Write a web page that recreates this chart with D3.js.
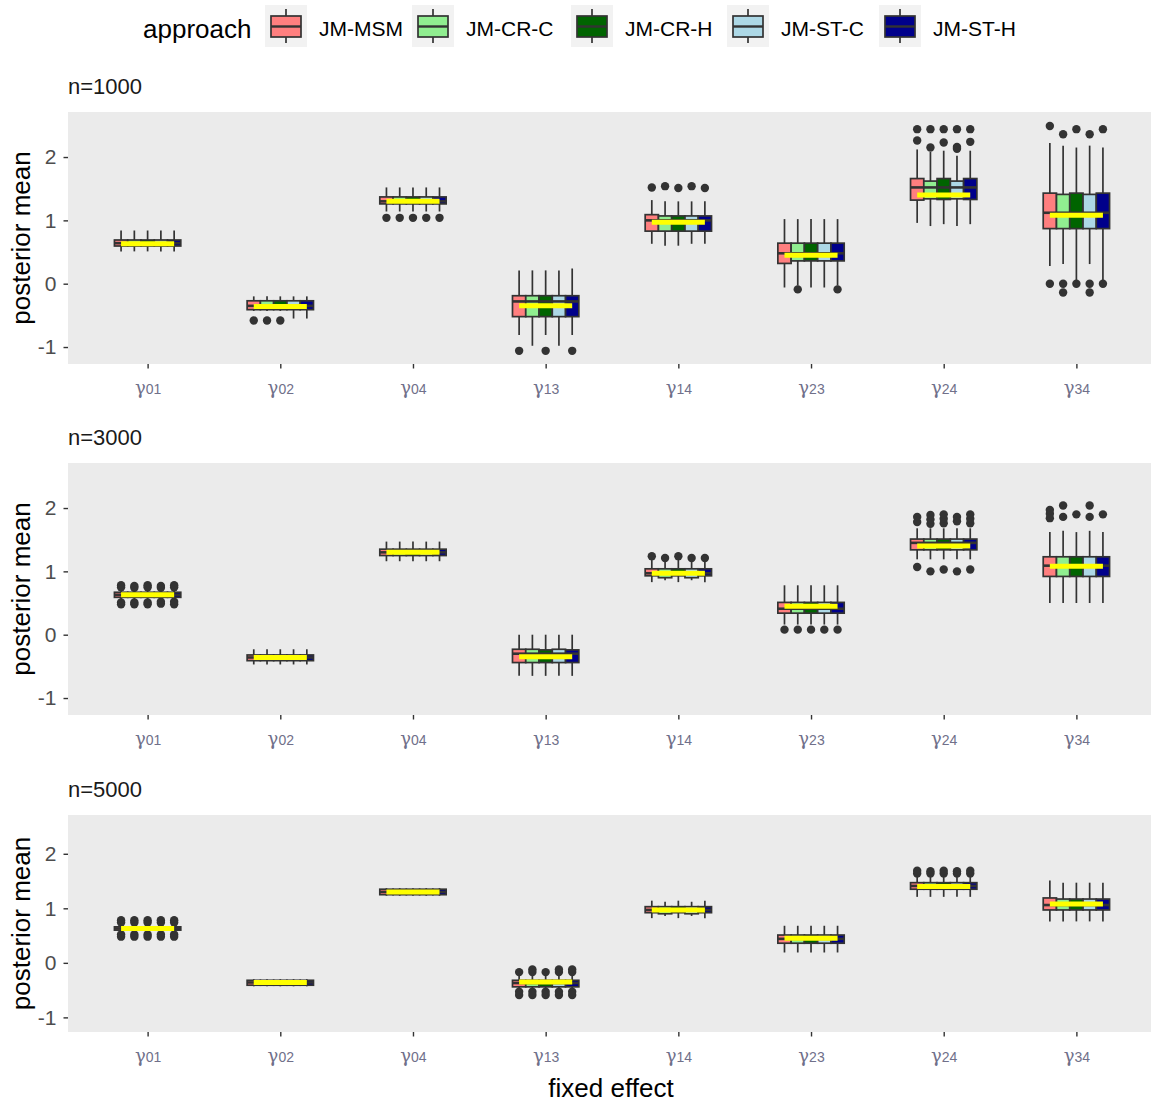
<!DOCTYPE html>
<html>
<head>
<meta charset="utf-8">
<script src="https://cdn.jsdelivr.net/npm/d3@7"></script>
<style>
  body { margin: 0; background: #ffffff; }
  svg { display: block; }
</style>
</head>
<body>
<svg id="chart" width="1151" height="1104"></svg>
<script>
// Estimation approaches compared in the simulation study
const approaches = ["JM-MSM", "JM-CR-C", "JM-CR-H", "JM-ST-C", "JM-ST-H"];
const approachColors = ["#FF7F7F", "#90EE90", "#006400", "#ADD8E6", "#00008B"];

// Fixed effects (subscripts of gamma) and their true values
const effects = ["01", "02", "04", "13", "14", "23", "24", "34"];
const trueValues = [0.63, -0.36, 1.30, -0.35, 0.97, 0.45, 1.40, 1.08];

const sampleSizes = ["n=1000", "n=3000", "n=5000"];
const yTicks = [-1, 0, 1, 2];

// Box summaries: effect, approach, lower whisker, Q1, median, Q3, upper whisker
const box1000 = [
  ["01", "JM-MSM", 0.51, 0.595, 0.64, 0.69, 0.84],
  ["01", "JM-CR-C", 0.51, 0.595, 0.64, 0.69, 0.84],
  ["01", "JM-CR-H", 0.51, 0.595, 0.64, 0.69, 0.84],
  ["01", "JM-ST-C", 0.51, 0.595, 0.64, 0.69, 0.84],
  ["01", "JM-ST-H", 0.51, 0.595, 0.64, 0.69, 0.84],
  ["02", "JM-MSM", -0.43, -0.41, -0.35, -0.27, -0.20],
  ["02", "JM-CR-C", -0.43, -0.41, -0.35, -0.27, -0.20],
  ["02", "JM-CR-H", -0.43, -0.41, -0.35, -0.27, -0.20],
  ["02", "JM-ST-C", -0.55, -0.41, -0.35, -0.27, -0.20],
  ["02", "JM-ST-H", -0.55, -0.41, -0.35, -0.27, -0.20],
  ["04", "JM-MSM", 1.14, 1.26, 1.30, 1.37, 1.52],
  ["04", "JM-CR-C", 1.14, 1.26, 1.30, 1.37, 1.52],
  ["04", "JM-CR-H", 1.14, 1.26, 1.30, 1.37, 1.52],
  ["04", "JM-ST-C", 1.14, 1.26, 1.30, 1.37, 1.52],
  ["04", "JM-ST-H", 1.14, 1.26, 1.30, 1.37, 1.52],
  ["13", "JM-MSM", -0.81, -0.52, -0.28, -0.19, 0.21],
  ["13", "JM-CR-C", -0.98, -0.52, -0.28, -0.19, 0.21],
  ["13", "JM-CR-H", -0.81, -0.52, -0.28, -0.19, 0.21],
  ["13", "JM-ST-C", -0.98, -0.52, -0.28, -0.19, 0.21],
  ["13", "JM-ST-H", -0.81, -0.52, -0.28, -0.19, 0.24],
  ["14", "JM-MSM", 0.63, 0.83, 1.00, 1.09, 1.32],
  ["14", "JM-CR-C", 0.60, 0.83, 1.00, 1.07, 1.30],
  ["14", "JM-CR-H", 0.60, 0.83, 1.00, 1.07, 1.30],
  ["14", "JM-ST-C", 0.63, 0.83, 1.00, 1.07, 1.30],
  ["14", "JM-ST-H", 0.63, 0.83, 1.00, 1.07, 1.30],
  ["23", "JM-MSM", -0.06, 0.32, 0.48, 0.64, 1.02],
  ["23", "JM-CR-C", -0.03, 0.36, 0.48, 0.64, 1.02],
  ["23", "JM-CR-H", -0.06, 0.36, 0.48, 0.64, 1.02],
  ["23", "JM-ST-C", -0.06, 0.36, 0.48, 0.64, 1.02],
  ["23", "JM-ST-H", -0.03, 0.36, 0.48, 0.64, 1.02],
  ["24", "JM-MSM", 0.96, 1.32, 1.52, 1.66, 2.12],
  ["24", "JM-CR-C", 0.91, 1.34, 1.52, 1.62, 2.08],
  ["24", "JM-CR-H", 0.94, 1.33, 1.52, 1.66, 2.10],
  ["24", "JM-ST-C", 0.91, 1.34, 1.52, 1.62, 2.02],
  ["24", "JM-ST-H", 0.94, 1.33, 1.52, 1.66, 2.10],
  ["34", "JM-MSM", 0.28, 0.87, 1.12, 1.43, 2.22],
  ["34", "JM-CR-C", 0.31, 0.87, 1.12, 1.41, 2.18],
  ["34", "JM-CR-H", 0.03, 0.87, 1.12, 1.43, 2.15],
  ["34", "JM-ST-C", 0.31, 0.87, 1.12, 1.41, 2.18],
  ["34", "JM-ST-H", 0.03, 0.87, 1.12, 1.43, 2.15]
];

const box3000 = [
  ["01", "JM-MSM", 0.56, 0.59, 0.63, 0.67, 0.70],
  ["01", "JM-CR-C", 0.56, 0.59, 0.63, 0.67, 0.70],
  ["01", "JM-CR-H", 0.56, 0.59, 0.63, 0.67, 0.70],
  ["01", "JM-ST-C", 0.56, 0.59, 0.63, 0.67, 0.70],
  ["01", "JM-ST-H", 0.56, 0.59, 0.63, 0.67, 0.70],
  ["02", "JM-MSM", -0.47, -0.41, -0.36, -0.32, -0.23],
  ["02", "JM-CR-C", -0.47, -0.41, -0.36, -0.32, -0.23],
  ["02", "JM-CR-H", -0.47, -0.41, -0.36, -0.32, -0.23],
  ["02", "JM-ST-C", -0.47, -0.41, -0.36, -0.32, -0.23],
  ["02", "JM-ST-H", -0.47, -0.41, -0.36, -0.32, -0.23],
  ["04", "JM-MSM", 1.16, 1.25, 1.30, 1.35, 1.47],
  ["04", "JM-CR-C", 1.16, 1.25, 1.30, 1.35, 1.47],
  ["04", "JM-CR-H", 1.16, 1.25, 1.30, 1.35, 1.47],
  ["04", "JM-ST-C", 1.16, 1.25, 1.30, 1.35, 1.47],
  ["04", "JM-ST-H", 1.16, 1.25, 1.30, 1.35, 1.47],
  ["13", "JM-MSM", -0.65, -0.44, -0.30, -0.23, 0.00],
  ["13", "JM-CR-C", -0.65, -0.44, -0.30, -0.23, 0.00],
  ["13", "JM-CR-H", -0.65, -0.44, -0.30, -0.24, 0.00],
  ["13", "JM-ST-C", -0.65, -0.44, -0.30, -0.23, 0.00],
  ["13", "JM-ST-H", -0.65, -0.44, -0.30, -0.24, 0.00],
  ["14", "JM-MSM", 0.83, 0.93, 0.97, 1.04, 1.18],
  ["14", "JM-CR-C", 0.86, 0.90, 0.97, 1.04, 1.15],
  ["14", "JM-CR-H", 0.83, 0.93, 0.97, 1.04, 1.18],
  ["14", "JM-ST-C", 0.86, 0.90, 0.97, 1.04, 1.15],
  ["14", "JM-ST-H", 0.83, 0.93, 0.97, 1.04, 1.15],
  ["23", "JM-MSM", 0.16, 0.34, 0.41, 0.51, 0.78],
  ["23", "JM-CR-C", 0.16, 0.34, 0.41, 0.51, 0.78],
  ["23", "JM-CR-H", 0.16, 0.34, 0.41, 0.51, 0.78],
  ["23", "JM-ST-C", 0.16, 0.34, 0.41, 0.51, 0.78],
  ["23", "JM-ST-H", 0.16, 0.34, 0.41, 0.51, 0.78],
  ["24", "JM-MSM", 1.19, 1.34, 1.45, 1.51, 1.68],
  ["24", "JM-CR-C", 1.19, 1.34, 1.45, 1.51, 1.68],
  ["24", "JM-CR-H", 1.19, 1.34, 1.45, 1.51, 1.68],
  ["24", "JM-ST-C", 1.19, 1.34, 1.45, 1.51, 1.68],
  ["24", "JM-ST-H", 1.19, 1.34, 1.45, 1.51, 1.68],
  ["34", "JM-MSM", 0.50, 0.92, 1.09, 1.23, 1.62],
  ["34", "JM-CR-C", 0.50, 0.92, 1.09, 1.23, 1.64],
  ["34", "JM-CR-H", 0.50, 0.92, 1.09, 1.23, 1.62],
  ["34", "JM-ST-C", 0.50, 0.92, 1.09, 1.23, 1.64],
  ["34", "JM-ST-H", 0.50, 0.92, 1.09, 1.23, 1.62]
];

const box5000 = [
  ["01", "JM-MSM", 0.57, 0.60, 0.63, 0.66, 0.69],
  ["01", "JM-CR-C", 0.57, 0.60, 0.63, 0.66, 0.69],
  ["01", "JM-CR-H", 0.57, 0.60, 0.63, 0.66, 0.69],
  ["01", "JM-ST-C", 0.57, 0.60, 0.63, 0.66, 0.69],
  ["01", "JM-ST-H", 0.57, 0.60, 0.63, 0.66, 0.69],
  ["02", "JM-MSM", -0.43, -0.41, -0.36, -0.32, -0.30],
  ["02", "JM-CR-C", -0.43, -0.41, -0.36, -0.32, -0.30],
  ["02", "JM-CR-H", -0.43, -0.41, -0.36, -0.32, -0.30],
  ["02", "JM-ST-C", -0.43, -0.41, -0.36, -0.32, -0.30],
  ["02", "JM-ST-H", -0.43, -0.41, -0.36, -0.32, -0.30],
  ["04", "JM-MSM", 1.23, 1.25, 1.30, 1.35, 1.37],
  ["04", "JM-CR-C", 1.23, 1.25, 1.30, 1.35, 1.37],
  ["04", "JM-CR-H", 1.23, 1.25, 1.30, 1.35, 1.37],
  ["04", "JM-ST-C", 1.23, 1.25, 1.30, 1.35, 1.37],
  ["04", "JM-ST-H", 1.23, 1.25, 1.30, 1.35, 1.37],
  ["13", "JM-MSM", -0.47, -0.44, -0.37, -0.32, -0.24],
  ["13", "JM-CR-C", -0.47, -0.44, -0.37, -0.32, -0.24],
  ["13", "JM-CR-H", -0.47, -0.44, -0.37, -0.32, -0.24],
  ["13", "JM-ST-C", -0.47, -0.44, -0.37, -0.32, -0.24],
  ["13", "JM-ST-H", -0.47, -0.44, -0.37, -0.32, -0.24],
  ["14", "JM-MSM", 0.82, 0.92, 0.97, 1.03, 1.14],
  ["14", "JM-CR-C", 0.86, 0.90, 0.97, 1.03, 1.12],
  ["14", "JM-CR-H", 0.82, 0.92, 0.97, 1.03, 1.14],
  ["14", "JM-ST-C", 0.86, 0.90, 0.97, 1.03, 1.12],
  ["14", "JM-ST-H", 0.82, 0.92, 0.97, 1.03, 1.14],
  ["23", "JM-MSM", 0.19, 0.36, 0.44, 0.51, 0.68],
  ["23", "JM-CR-C", 0.19, 0.36, 0.44, 0.51, 0.68],
  ["23", "JM-CR-H", 0.19, 0.36, 0.44, 0.51, 0.68],
  ["23", "JM-ST-C", 0.19, 0.36, 0.44, 0.51, 0.68],
  ["23", "JM-ST-H", 0.19, 0.36, 0.44, 0.51, 0.68],
  ["24", "JM-MSM", 1.21, 1.35, 1.41, 1.47, 1.60],
  ["24", "JM-CR-C", 1.21, 1.35, 1.41, 1.47, 1.60],
  ["24", "JM-CR-H", 1.21, 1.35, 1.41, 1.47, 1.60],
  ["24", "JM-ST-C", 1.21, 1.35, 1.41, 1.47, 1.60],
  ["24", "JM-ST-H", 1.21, 1.35, 1.41, 1.47, 1.60],
  ["34", "JM-MSM", 0.76, 0.97, 1.06, 1.19, 1.51],
  ["34", "JM-CR-C", 0.76, 0.97, 1.06, 1.17, 1.47],
  ["34", "JM-CR-H", 0.76, 0.97, 1.06, 1.17, 1.47],
  ["34", "JM-ST-C", 0.76, 0.97, 1.06, 1.17, 1.47],
  ["34", "JM-ST-H", 0.76, 0.97, 1.06, 1.17, 1.47]
];

// Outlying posterior means: effect, approach, value
const out1000 = [
  ["02", "JM-MSM", -0.58], ["02", "JM-CR-C", -0.58], ["02", "JM-CR-H", -0.58],
  ["04", "JM-MSM", 1.04], ["04", "JM-CR-C", 1.04], ["04", "JM-CR-H", 1.04], ["04", "JM-ST-C", 1.04], ["04", "JM-ST-H", 1.04],
  ["13", "JM-MSM", -1.06], ["13", "JM-CR-H", -1.06], ["13", "JM-ST-H", -1.06],
  ["14", "JM-MSM", 1.52], ["14", "JM-CR-C", 1.54], ["14", "JM-CR-H", 1.51], ["14", "JM-ST-C", 1.54], ["14", "JM-ST-H", 1.51],
  ["23", "JM-CR-C", -0.09], ["23", "JM-ST-H", -0.09],
  ["24", "JM-MSM", 2.44], ["24", "JM-MSM", 2.26],
  ["24", "JM-CR-C", 2.44], ["24", "JM-CR-C", 2.15],
  ["24", "JM-CR-H", 2.44], ["24", "JM-CR-H", 2.23],
  ["24", "JM-ST-C", 2.44], ["24", "JM-ST-C", 2.16], ["24", "JM-ST-C", 2.13],
  ["24", "JM-ST-H", 2.44], ["24", "JM-ST-H", 2.24],
  ["34", "JM-MSM", 2.49], ["34", "JM-MSM", 0.00],
  ["34", "JM-CR-C", 2.36], ["34", "JM-CR-C", 0.00], ["34", "JM-CR-C", -0.14],
  ["34", "JM-CR-H", 2.44], ["34", "JM-CR-H", 0.00],
  ["34", "JM-ST-C", 2.36], ["34", "JM-ST-C", 0.00], ["34", "JM-ST-C", -0.14],
  ["34", "JM-ST-H", 2.44], ["34", "JM-ST-H", 0.00]
];

const out3000 = [
  ["01", "JM-MSM", 0.78], ["01", "JM-MSM", 0.75], ["01", "JM-MSM", 0.51], ["01", "JM-MSM", 0.48],
  ["01", "JM-CR-C", 0.77], ["01", "JM-CR-C", 0.74], ["01", "JM-CR-C", 0.51], ["01", "JM-CR-C", 0.48],
  ["01", "JM-CR-H", 0.78], ["01", "JM-CR-H", 0.75], ["01", "JM-CR-H", 0.51], ["01", "JM-CR-H", 0.48],
  ["01", "JM-ST-C", 0.77], ["01", "JM-ST-C", 0.74], ["01", "JM-ST-C", 0.52], ["01", "JM-ST-C", 0.49],
  ["01", "JM-ST-H", 0.78], ["01", "JM-ST-H", 0.75], ["01", "JM-ST-H", 0.52], ["01", "JM-ST-H", 0.48],
  ["14", "JM-MSM", 1.24], ["14", "JM-CR-C", 1.21], ["14", "JM-CR-H", 1.24], ["14", "JM-ST-C", 1.21], ["14", "JM-ST-H", 1.21],
  ["23", "JM-MSM", 0.08], ["23", "JM-CR-C", 0.08], ["23", "JM-CR-H", 0.08], ["23", "JM-ST-C", 0.08], ["23", "JM-ST-H", 0.08],
  ["24", "JM-MSM", 1.78], ["24", "JM-MSM", 1.86], ["24", "JM-MSM", 1.07],
  ["24", "JM-CR-C", 1.75], ["24", "JM-CR-C", 1.82], ["24", "JM-CR-C", 1.89], ["24", "JM-CR-C", 1.00],
  ["24", "JM-CR-H", 1.76], ["24", "JM-CR-H", 1.83], ["24", "JM-CR-H", 1.90], ["24", "JM-CR-H", 1.03],
  ["24", "JM-ST-C", 1.79], ["24", "JM-ST-C", 1.86], ["24", "JM-ST-C", 1.00],
  ["24", "JM-ST-H", 1.76], ["24", "JM-ST-H", 1.83], ["24", "JM-ST-H", 1.90], ["24", "JM-ST-H", 1.03],
  ["34", "JM-MSM", 1.84], ["34", "JM-MSM", 1.91], ["34", "JM-MSM", 1.97],
  ["34", "JM-CR-C", 1.86], ["34", "JM-CR-C", 2.04],
  ["34", "JM-CR-H", 1.90],
  ["34", "JM-ST-C", 1.86], ["34", "JM-ST-C", 2.04],
  ["34", "JM-ST-H", 1.90]
];

const out5000 = [
  ["01", "JM-MSM", 0.78], ["01", "JM-MSM", 0.74], ["01", "JM-MSM", 0.52], ["01", "JM-MSM", 0.48],
  ["01", "JM-CR-C", 0.78], ["01", "JM-CR-C", 0.74], ["01", "JM-CR-C", 0.52], ["01", "JM-CR-C", 0.48],
  ["01", "JM-CR-H", 0.78], ["01", "JM-CR-H", 0.74], ["01", "JM-CR-H", 0.52], ["01", "JM-CR-H", 0.48],
  ["01", "JM-ST-C", 0.78], ["01", "JM-ST-C", 0.74], ["01", "JM-ST-C", 0.52], ["01", "JM-ST-C", 0.48],
  ["01", "JM-ST-H", 0.78], ["01", "JM-ST-H", 0.74], ["01", "JM-ST-H", 0.52], ["01", "JM-ST-H", 0.48],
  ["13", "JM-MSM", -0.17], ["13", "JM-MSM", -0.53], ["13", "JM-MSM", -0.59],
  ["13", "JM-CR-C", -0.12], ["13", "JM-CR-C", -0.17], ["13", "JM-CR-C", -0.53], ["13", "JM-CR-C", -0.59],
  ["13", "JM-CR-H", -0.17], ["13", "JM-CR-H", -0.53], ["13", "JM-CR-H", -0.59],
  ["13", "JM-ST-C", -0.12], ["13", "JM-ST-C", -0.17], ["13", "JM-ST-C", -0.53], ["13", "JM-ST-C", -0.59],
  ["13", "JM-ST-H", -0.12], ["13", "JM-ST-H", -0.17], ["13", "JM-ST-H", -0.53], ["13", "JM-ST-H", -0.59],
  ["24", "JM-MSM", 1.64], ["24", "JM-MSM", 1.69],
  ["24", "JM-CR-C", 1.64], ["24", "JM-CR-C", 1.68],
  ["24", "JM-CR-H", 1.64], ["24", "JM-CR-H", 1.69],
  ["24", "JM-ST-C", 1.64], ["24", "JM-ST-C", 1.68],
  ["24", "JM-ST-H", 1.64], ["24", "JM-ST-H", 1.69]
];

// ---- layout ----
const W = 1151;
const plotLeft = 68, plotRight = 1156;   // the panel runs slightly past the right edge
const panelSpecs = [
  { label: sampleSizes[0], boxes: box1000, outliers: out1000, top: 112, bottom: 364 },
  { label: sampleSizes[1], boxes: box3000, outliers: out3000, top: 463, bottom: 715 },
  { label: sampleSizes[2], boxes: box5000, outliers: out5000, top: 815, bottom: 1032 }
];
const yDomain = [-1.268, 2.711];
const lineColor = "#333333";
const sans = "'Liberation Sans', Arial, sans-serif";

const svg = d3.select("#chart");
svg.append("rect").attr("width", W).attr("height", 1104).attr("fill", "#ffffff");

const x = d3.scalePoint().domain(effects).range([plotLeft, plotRight]).padding(0.6);
const step = x.step();
const dodge = d3.scaleBand().domain(approaches).range([-0.25 * step, 0.25 * step]);
const bw = dodge.bandwidth();
const colorOf = d3.scaleOrdinal().domain(approaches).range(approachColors);
const trueOf = new Map(effects.map((e, i) => [e, trueValues[i]]));

panelSpecs.forEach(p => {
  const g = svg.append("g");
  const y = d3.scaleLinear().domain(yDomain).range([p.bottom, p.top]);

  g.append("rect")
    .attr("x", plotLeft).attr("y", p.top)
    .attr("width", plotRight - plotLeft).attr("height", p.bottom - p.top)
    .attr("fill", "#EBEBEB");

  // panel title
  g.append("text")
    .attr("x", plotLeft).attr("y", p.top - 26)
    .attr("dominant-baseline", "central")
    .attr("font-family", sans).attr("font-size", 22).attr("fill", "#1A1A1A")
    .text(p.label);

  // y axis
  const yAxis = g.append("g").attr("transform", `translate(${plotLeft},0)`)
    .call(d3.axisLeft(y).tickValues(yTicks).tickSize(4.5).tickPadding(7).tickFormat(d => String(d)));
  yAxis.select(".domain").remove();
  yAxis.selectAll(".tick line").attr("stroke", lineColor).attr("stroke-width", 1.4);
  yAxis.selectAll(".tick text")
    .attr("font-family", sans).attr("font-size", 21).attr("fill", "#4D4D4D");

  // x axis with gamma labels
  const xAxis = g.append("g").attr("transform", `translate(0,${p.bottom})`)
    .call(d3.axisBottom(x).tickSize(4.5).tickPadding(0).tickFormat(""));
  xAxis.select(".domain").remove();
  xAxis.selectAll(".tick line").attr("stroke", lineColor).attr("stroke-width", 1.4);
  const lab = xAxis.selectAll(".tick text")
    .attr("y", 23).attr("dy", null)
    .attr("dominant-baseline", "central")
    .attr("fill", "#70708A");
  lab.append("tspan")
    .attr("font-family", "'DejaVu Serif', 'Liberation Serif', serif")
    .attr("font-size", 18).text("γ");
  lab.append("tspan")
    .attr("font-family", sans)
    .attr("font-size", 14).attr("dy", 2).text(d => d);

  // y axis title
  g.append("text")
    .attr("transform", `translate(21,${(p.top + p.bottom) / 2}) rotate(-90)`)
    .attr("text-anchor", "middle").attr("dominant-baseline", "central")
    .attr("font-family", sans).attr("font-size", 26).attr("fill", "#000")
    .text("posterior mean");

  // boxplots, one group per box
  const rows = p.boxes.map(r => ({
    effect: r[0], approach: r[1], lo: r[2], q1: r[3], med: r[4], q3: r[5], hi: r[6],
    cx: x(r[0]) + dodge(r[1]) + bw / 2
  }));
  const outs = p.outliers.map(o => ({ effect: o[0], approach: o[1], v: o[2] }));

  const boxes = g.append("g").selectAll("g").data(rows).join("g");
  boxes.each(function (d) {
    const b = d3.select(this);
    b.selectAll("circle")
      .data(outs.filter(o => o.effect === d.effect && o.approach === d.approach))
      .join("circle")
      .attr("cx", d.cx).attr("cy", o => y(o.v)).attr("r", 4.2)
      .attr("fill", lineColor);
  });
  boxes.append("line")
    .attr("x1", d => d.cx).attr("x2", d => d.cx)
    .attr("y1", d => y(d.hi)).attr("y2", d => y(d.q3))
    .attr("stroke", lineColor).attr("stroke-width", 1.7);
  boxes.append("line")
    .attr("x1", d => d.cx).attr("x2", d => d.cx)
    .attr("y1", d => y(d.q1)).attr("y2", d => y(d.lo))
    .attr("stroke", lineColor).attr("stroke-width", 1.7);
  boxes.append("rect")
    .attr("x", d => d.cx - bw / 2).attr("width", bw)
    .attr("y", d => y(d.q3)).attr("height", d => y(d.q1) - y(d.q3))
    .attr("fill", d => colorOf(d.approach))
    .attr("stroke", lineColor).attr("stroke-width", 1.7);
  boxes.append("line")
    .attr("x1", d => d.cx - bw / 2).attr("x2", d => d.cx + bw / 2)
    .attr("y1", d => y(d.med)).attr("y2", d => y(d.med))
    .attr("stroke", lineColor).attr("stroke-width", 2.6);

  // true values
  g.append("g").selectAll("line").data(effects).join("line")
    .attr("x1", e => x(e) + dodge(approaches[0]) + bw / 2)
    .attr("x2", e => x(e) + dodge(approaches[approaches.length - 1]) + bw / 2)
    .attr("y1", e => y(trueOf.get(e))).attr("y2", e => y(trueOf.get(e)))
    .attr("stroke", "#FFFF00").attr("stroke-width", 5);
});

// x axis title
svg.append("text")
  .attr("x", 611).attr("y", 1088)
  .attr("text-anchor", "middle").attr("dominant-baseline", "central")
  .attr("font-family", sans).attr("font-size", 26).attr("fill", "#000")
  .text("fixed effect");

// legend
const legend = svg.append("g");
legend.append("text")
  .attr("x", 143).attr("y", 29)
  .attr("dominant-baseline", "central")
  .attr("font-family", sans).attr("font-size", 26).attr("fill", "#000")
  .text("approach");
const keyX = [265, 412, 571, 727, 879];
const keys = legend.selectAll("g.key").data(approaches).join("g")
  .attr("class", "key")
  .attr("transform", (d, i) => `translate(${keyX[i]},5)`);
keys.append("rect").attr("width", 42).attr("height", 42).attr("fill", "#F2F2F2");
keys.append("line").attr("x1", 21).attr("x2", 21).attr("y1", 4).attr("y2", 38)
  .attr("stroke", lineColor).attr("stroke-width", 1.7);
keys.append("rect").attr("x", 6).attr("y", 11).attr("width", 30).attr("height", 21)
  .attr("fill", d => colorOf(d)).attr("stroke", lineColor).attr("stroke-width", 1.7);
keys.append("line").attr("x1", 6).attr("x2", 36).attr("y1", 21.5).attr("y2", 21.5)
  .attr("stroke", lineColor).attr("stroke-width", 2.4);
keys.append("text")
  .attr("x", 54).attr("y", 23)
  .attr("dominant-baseline", "central")
  .attr("font-family", sans).attr("font-size", 21).attr("fill", "#000")
  .text(d => d);
</script>
</body>
</html>
